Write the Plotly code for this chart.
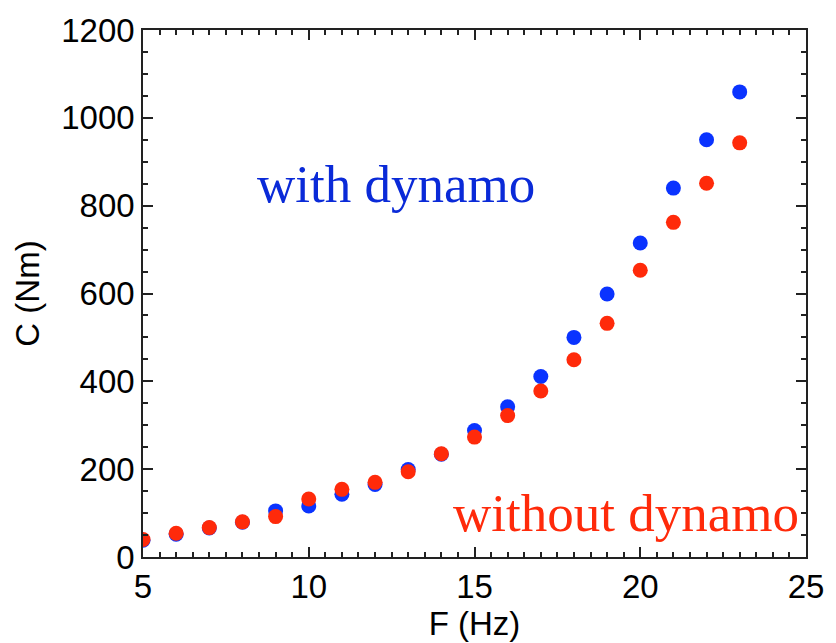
import plotly.graph_objects as go

# Torque vs. rotation frequency
freq_with = [5, 6, 7, 8, 9, 10, 11, 12, 13, 14, 15, 16, 17, 18, 19, 20, 21, 22, 23]
torque_with = [38, 52, 66, 79, 105, 116, 143, 165, 199, 234, 288, 342, 411, 500, 599, 715, 840, 950, 1059]

freq_without = [5, 6, 7, 8, 9, 10, 11, 12, 13, 14, 15, 16, 17, 18, 19, 20, 21, 22, 23]
torque_without = [40, 54, 67, 80, 92, 132, 154, 170, 194, 235, 273, 322, 378, 449, 532, 653, 762, 851, 943]

x_ticks = [5, 10, 15, 20, 25]
y_ticks = [0, 200, 400, 600, 800, 1000, 1200]

BLUE = "#0a33ff"
RED = "#ff2a0a"

fig = go.Figure()
fig.add_trace(go.Scatter(
    x=freq_with, y=torque_with, mode="markers",
    marker=dict(color=BLUE, size=15, line=dict(width=0)),
    name="with dynamo", showlegend=False,
))
fig.add_trace(go.Scatter(
    x=freq_without, y=torque_without, mode="markers",
    marker=dict(color=RED, size=15, line=dict(width=0)),
    name="without dynamo", showlegend=False,
))

axis_font = dict(family="Liberation Sans, Arial, sans-serif", size=33, color="black")

fig.update_xaxes(
    range=[5, 25], tickvals=x_ticks, ticks="inside", ticklen=10, tickwidth=1.5,
    tickcolor="#222", showline=True, linecolor="#222", linewidth=1.5, mirror="allticks",
    showgrid=False, zeroline=False, tickfont=axis_font,
    minor=dict(dtick=0.5, ticks="inside", ticklen=5, tickwidth=1.5, tickcolor="#222", showgrid=False),
    title=dict(text="F (Hz)", font=axis_font, standoff=3),
)
fig.update_yaxes(
    range=[0, 1200], tickvals=y_ticks, ticks="inside", ticklen=10, tickwidth=1.5,
    tickcolor="#222", showline=True, linecolor="#222", linewidth=1.5, mirror="allticks",
    showgrid=False, zeroline=False, tickfont=axis_font,
    minor=dict(dtick=50, ticks="inside", ticklen=5, tickwidth=1.5, tickcolor="#222", showgrid=False),
    title=dict(text="C (Nm)", font=axis_font, standoff=12),
)

label_font = "Liberation Serif, Times New Roman, serif"
fig.add_annotation(
    x=8.39, y=850, xref="x", yref="y", text="with dynamo", showarrow=False,
    xanchor="left", yanchor="middle",
    font=dict(family=label_font, size=53, color="#0a2ad8"),
)
fig.add_annotation(
    x=14.29, y=100, xref="x", yref="y", text="without dynamo", showarrow=False,
    xanchor="left", yanchor="middle",
    font=dict(family=label_font, size=53, color=RED),
)

fig.update_layout(
    width=836, height=643,
    margin=dict(l=143, r=21, t=24, b=82),
    paper_bgcolor="white", plot_bgcolor="white",
    showlegend=False,
)

fig.write_html("out.html")
